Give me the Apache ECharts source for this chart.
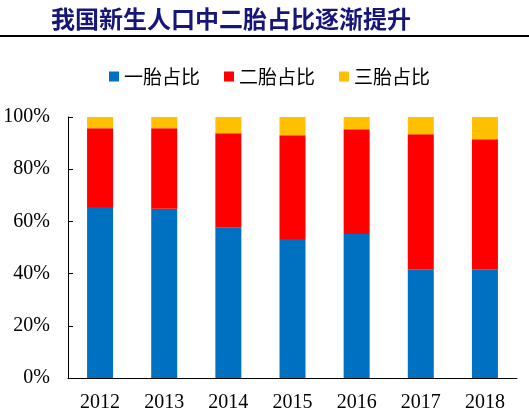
<!DOCTYPE html>
<html>
<head>
<meta charset="utf-8">
<title>二胎占比</title>
<script src="https://cdn.jsdelivr.net/npm/echarts@6/dist/echarts.min.js"></script>
<style>
  html,body{margin:0;padding:0;background:#fff;}
  #main{width:529px;height:420px;}
</style>
</head>
<body>
<div id="main"></div>
<script>
  // 数据
  var years = ['2012', '2013', '2014', '2015', '2016', '2017', '2018'];
  var first = [65.5, 64.8, 57.8, 53.3, 55.2, 41.7, 41.7];
  var second = [30.2, 30.9, 36.0, 39.7, 40.1, 51.7, 49.8];
  var third = [4.3, 4.3, 6.2, 7.0, 4.7, 6.6, 8.5];
  var yTicks = [0, 20, 40, 60, 80, 100];

  var chart = echarts.init(document.getElementById('main'));
  var serif = '"Liberation Serif", "Times New Roman", serif';
  var cjk = '"Noto Sans CJK SC", sans-serif';

  function bar(name, data, color){
    return {
      name: name,
      type: 'bar',
      stack: 'total',
      data: data,
      barWidth: 26,
      itemStyle: {color: color}
    };
  }

  chart.setOption({
    animation: false,
    backgroundColor: '#fff',
    title: {
      text: '我国新生人口中二胎占比逐渐提升',
      left: 46,
      top: 2,
      textStyle: {color: '#16167a', fontSize: 24, fontWeight: 'bold', fontFamily: cjk}
    },
    graphic: [{
      type: 'rect',
      shape: {x: 0, y: 35, width: 529, height: 2},
      style: {fill: '#000'}
    }],
    legend: {
      top: 62,
      left: 104,
      itemWidth: 10,
      itemHeight: 10,
      itemGap: 24,
      icon: 'rect',
      textStyle: {fontSize: 19, color: '#000', fontFamily: cjk},
      data: ['一胎占比', '二胎占比', '三胎占比']
    },
    grid: {left: 68, right: 12, top: 117, bottom: 42},
    xAxis: {
      type: 'category',
      data: years,
      axisLine: {lineStyle: {color: '#000', width: 1}},
      axisTick: {inside: true, length: 5, lineStyle: {color: '#000'}},
      axisLabel: {color: '#000', fontSize: 20, fontFamily: serif, margin: 15}
    },
    yAxis: {
      type: 'value',
      min: 0,
      max: 100,
      interval: 20,
      splitLine: {show: false},
      axisLine: {show: true, lineStyle: {color: '#000', width: 1}},
      axisTick: {show: true, inside: true, length: 5, lineStyle: {color: '#000'}},
      axisLabel: {
        color: '#000', fontSize: 20, fontFamily: serif, margin: 18,
        formatter: function (v) { return yTicks.indexOf(v) >= 0 ? v + '%' : ''; }
      }
    },
    series: [
      bar('一胎占比', first, '#0070C0'),
      bar('二胎占比', second, '#FF0000'),
      bar('三胎占比', third, '#FFC000')
    ]
  });
</script>
</body>
</html>
